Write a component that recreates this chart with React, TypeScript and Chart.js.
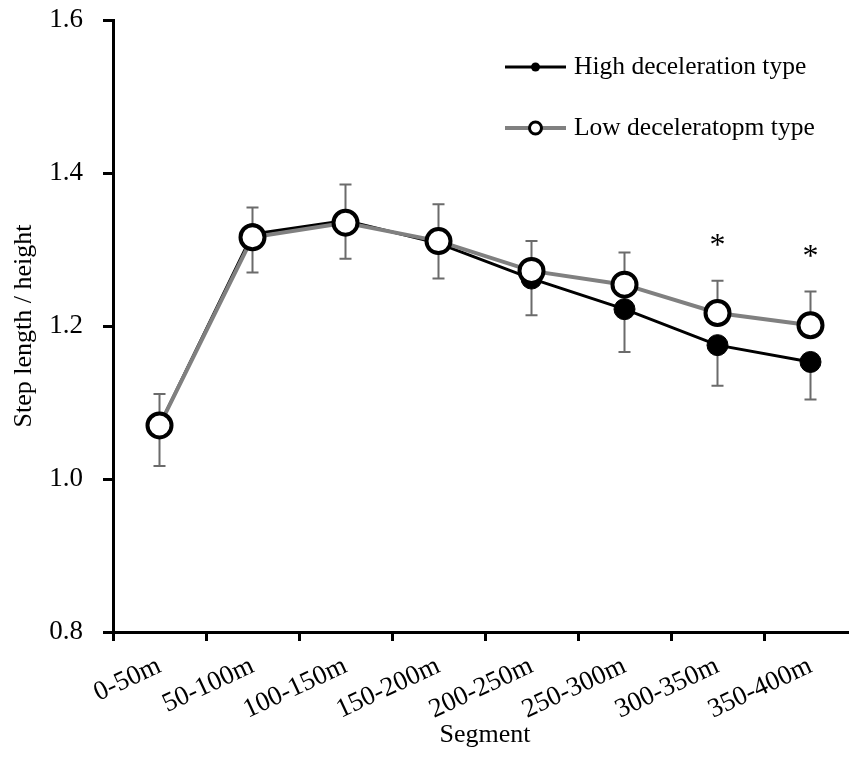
import React, { useEffect, useRef } from 'react';
import { Chart, registerables } from 'chart.js';

Chart.register(...registerables);

const FONT = '"Liberation Serif", "Times New Roman", serif';

const categories = ['0-50m', '50-100m', '100-150m', '150-200m', '200-250m', '250-300m', '300-350m', '350-400m'];
const highValues = [1.07, 1.32, 1.338, 1.308, 1.262, 1.222, 1.175, 1.153];
const lowValues = [1.07, 1.316, 1.335, 1.311, 1.272, 1.254, 1.217, 1.201];
const highErrLower = [0.053, 0.05, 0.05, 0.046, 0.048, 0.056, 0.053, 0.049];
const lowErrUpper = [0.041, 0.039, 0.05, 0.048, 0.039, 0.042, 0.042, 0.044];
const significant = [false, false, false, false, false, false, true, true];
const highLabel = 'High deceleration type';
const lowLabel = 'Low deceleratopm type';
const yMin = 0.8;
const yMax = 1.6;
const yStep = 0.2;

export default function App() {
  const ref = useRef<HTMLCanvasElement>(null);

  useEffect(() => {
    const canvas = ref.current;
    if (!canvas) return;

    const errorBars = {
      id: 'errorBars',
      beforeDatasetsDraw(chart: any) {
        const { ctx, scales } = chart;
        const xs = scales.x;
        const ys = scales.y;
        ctx.save();
        ctx.strokeStyle = '#6b6b6b';
        ctx.lineWidth = 2;
        const cap = 6;
        const bar = (x: number, y1: number, y2: number) => {
          ctx.beginPath();
          ctx.moveTo(x, y1);
          ctx.lineTo(x, y2);
          ctx.moveTo(x - cap, y2);
          ctx.lineTo(x + cap, y2);
          ctx.stroke();
        };
        categories.forEach((_, i) => {
          const x = xs.getPixelForValue(i);
          bar(x, ys.getPixelForValue(lowValues[i]), ys.getPixelForValue(lowValues[i] + lowErrUpper[i]));
          bar(x, ys.getPixelForValue(highValues[i]), ys.getPixelForValue(highValues[i] - highErrLower[i]));
        });
        ctx.restore();
      },
      afterDatasetsDraw(chart: any) {
        const { ctx, scales } = chart;
        ctx.save();
        ctx.fillStyle = '#000';
        ctx.font = `32px ${FONT}`;
        ctx.textAlign = 'center';
        ctx.textBaseline = 'alphabetic';
        significant.forEach((s, i) => {
          if (!s) return;
          const x = scales.x.getPixelForValue(i);
          const top = scales.y.getPixelForValue(lowValues[i] + lowErrUpper[i]);
          ctx.fillText('*', x, top - 26);
        });
        ctx.restore();
      },
    };

    const customLegend = {
      id: 'customLegend',
      afterDraw(chart: any) {
        const { ctx } = chart;
        ctx.save();
        const x0 = 505;
        const x1 = 566;
        const xm = (x0 + x1) / 2;
        const tx = 574;
        // High
        let y = 67;
        ctx.strokeStyle = '#000';
        ctx.lineWidth = 3;
        ctx.beginPath();
        ctx.moveTo(x0, y);
        ctx.lineTo(x1, y);
        ctx.stroke();
        ctx.fillStyle = '#000';
        ctx.beginPath();
        ctx.arc(xm, y, 4.5, 0, Math.PI * 2);
        ctx.fill();
        ctx.font = `25.5px ${FONT}`;
        ctx.textAlign = 'left';
        ctx.textBaseline = 'middle';
        ctx.fillText(highLabel, tx, y);
        // Low
        y = 128;
        ctx.strokeStyle = '#808080';
        ctx.lineWidth = 4;
        ctx.beginPath();
        ctx.moveTo(x0, y);
        ctx.lineTo(x1, y);
        ctx.stroke();
        ctx.fillStyle = '#fff';
        ctx.strokeStyle = '#000';
        ctx.lineWidth = 3;
        ctx.beginPath();
        ctx.arc(xm, y, 6, 0, Math.PI * 2);
        ctx.fill();
        ctx.stroke();
        ctx.fillStyle = '#000';
        ctx.fillText(lowLabel, tx, y);
        ctx.restore();
      },
    };

    const chart = new Chart(canvas, {
      type: 'line',
      data: {
        labels: categories,
        datasets: [
          {
            label: highLabel,
            data: highValues,
            borderColor: '#000',
            borderWidth: 3,
            pointRadius: 10.5,
            pointBackgroundColor: '#000',
            pointBorderColor: '#000',
            pointBorderWidth: 1,
            order: 2,
            tension: 0,
          },
          {
            label: lowLabel,
            data: lowValues,
            borderColor: '#808080',
            borderWidth: 4,
            pointRadius: 12,
            pointBackgroundColor: '#fff',
            pointBorderColor: '#000',
            pointBorderWidth: 4,
            order: 1,
            tension: 0,
          },
        ],
      },
      options: {
        responsive: false,
        animation: false,
        devicePixelRatio: 1,
        layout: { padding: { top: 20, right: 23, left: 0, bottom: 0 } },
        plugins: {
          legend: { display: false },
          tooltip: { enabled: false },
        },
        scales: {
          x: {
            type: 'category',
            offset: true,
            grid: {
              offset: true,
              drawOnChartArea: false,
              drawTicks: true,
              tickLength: 9,
              tickColor: '#000',
              tickWidth: 3,
            },
            border: { display: true, color: '#000', width: 3 },
            ticks: {
              color: '#000',
              font: { family: FONT, size: 27 },
              minRotation: 25,
              maxRotation: 25,
              padding: 9,
              autoSkip: false,
            },
            title: {
              display: true,
              text: 'Segment',
              color: '#000',
              font: { family: FONT, size: 26 },
              padding: { top: 0, bottom: 6 },
            },
            afterFit: (s: any) => {
              s.height = 125;
            },
          },
          y: {
            min: yMin,
            max: yMax,
            grid: {
              drawOnChartArea: false,
              drawTicks: true,
              tickLength: 10,
              tickColor: '#000',
              tickWidth: 3,
            },
            border: { display: true, color: '#000', width: 3 },
            ticks: {
              stepSize: yStep,
              color: '#000',
              font: { family: FONT, size: 27 },
              padding: 20,
              callback: (v: any) => Number(v).toFixed(1),
            },
            title: {
              display: true,
              text: 'Step length / height',
              color: '#000',
              font: { family: FONT, size: 26 },
              padding: { top: 9, bottom: 0 },
            },
            afterFit: (s: any) => {
              s.width = 113;
              s.paddingTop = 0;
              s.paddingBottom = 0;
            },
          },
        },
      },
      plugins: [errorBars, customLegend],
    });

    return () => chart.destroy();
  }, []);

  return (
    <div
      style={{
        position: 'fixed',
        left: 0,
        top: 0,
        width: 849,
        height: 757,
        overflow: 'hidden',
        background: '#fff',
      }}
    >
      <canvas ref={ref} width={880} height={757} style={{ width: 880, height: 757, display: 'block' }} />
    </div>
  );
}
